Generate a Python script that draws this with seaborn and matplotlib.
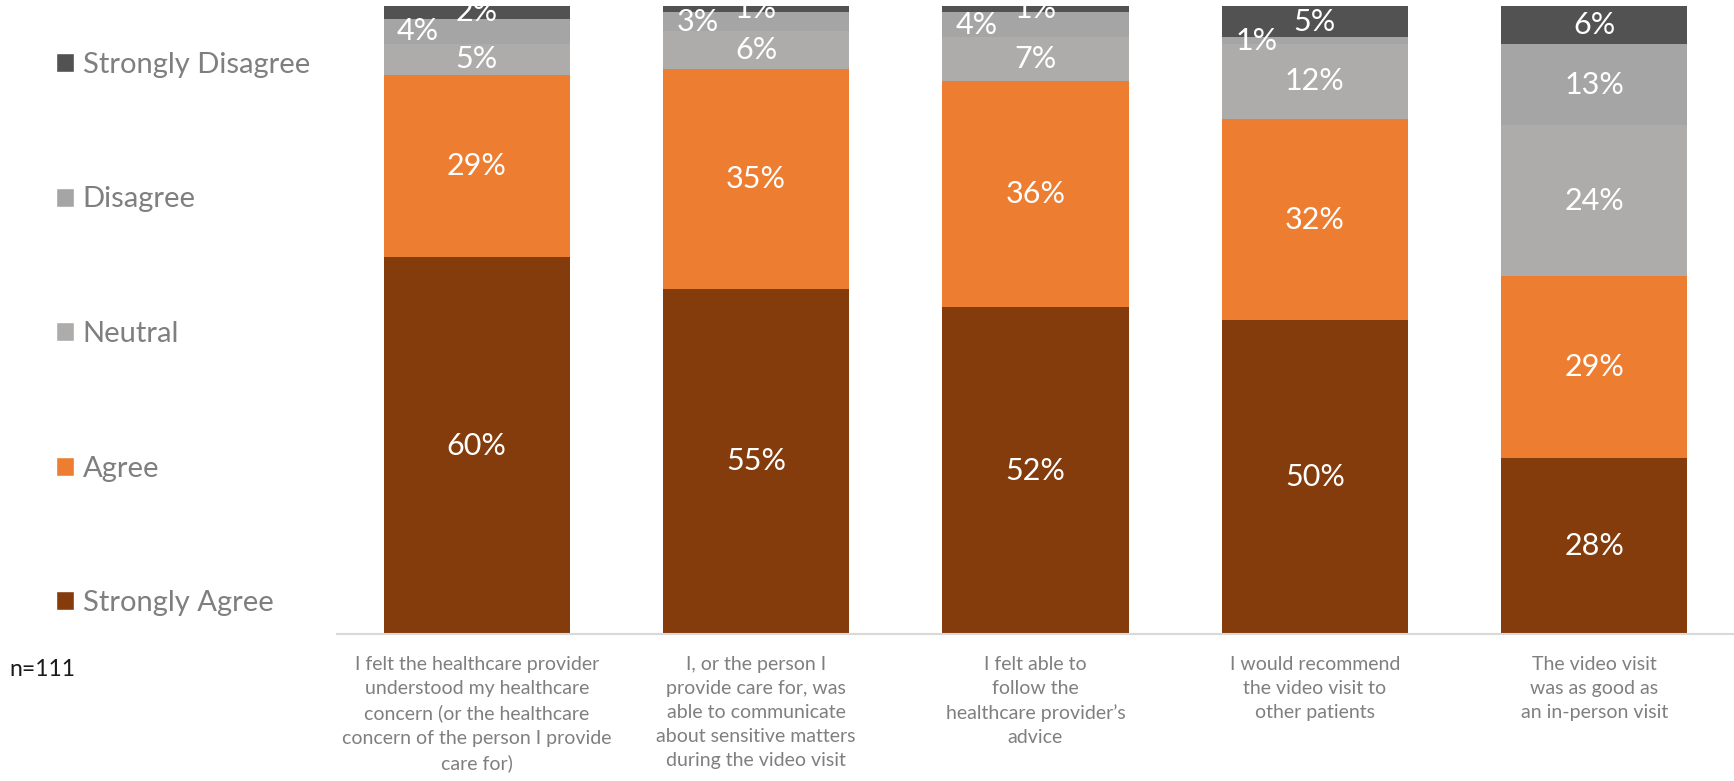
import pandas as pd
import seaborn as sns
import matplotlib.pyplot as plt
from matplotlib.patches import Patch

# survey items (x axis)
questions = [
    "I felt the healthcare provider\nunderstood my healthcare\nconcern (or the healthcare\nconcern of the person I provide\ncare for)",
    "I, or the person I\nprovide care for, was\nable to communicate\nabout sensitive matters\nduring the video visit",
    "I felt able to\nfollow the\nhealthcare provider\u2019s\nadvice",
    "I would recommend\nthe video visit to\nother patients",
    "The video visit\nwas as good as\nan in-person visit",
]

# percentages per answer level
strongly_agree = [60, 55, 52, 50, 28]
agree = [29, 35, 36, 32, 29]
neutral = [5, 6, 7, 12, 24]
disagree = [4, 3, 4, 1, 13]
strongly_disagree = [2, 1, 1, 5, 6]

levels = ["Strongly Agree", "Agree", "Neutral", "Disagree", "Strongly Disagree"]
colors = ["#843C0C", "#ED7D31", "#AEABAB", "#A5A5A5", "#525252"]

df = pd.DataFrame({
    "question": questions,
    "Strongly Agree": strongly_agree,
    "Agree": agree,
    "Neutral": neutral,
    "Disagree": disagree,
    "Strongly Disagree": strongly_disagree,
})
cum = df[levels].cumsum(axis=1)

sns.set_theme(style="white")
plt.rcParams["font.family"] = ["Lato", "DejaVu Sans"]

W, H = 1734, 781
fig = plt.figure(figsize=(W / 100, H / 100), dpi=100)
ax = fig.add_axes([337 / W, 1 - 634 / H, 1 - 337 / W, 628 / H])

# stacked bars: draw cumulative totals from the top layer down
for lvl, col in reversed(list(zip(levels, colors))):
    sns.barplot(x=df["question"], y=cum[lvl], order=questions, color=col,
                saturation=1, width=0.666, errorbar=None, linewidth=0, ax=ax)

# value labels in the middle of each segment
for i in range(len(questions)):
    for lvl in levels:
        val = df.loc[i, lvl]
        y = cum.loc[i, lvl] - val / 2
        x = i
        if lvl == "Disagree" and val < 5:
            x = i - 0.21  # nudged left like the original
        ax.text(x, y, f"{val}%", ha="center", va="center", color="white", fontsize=22)

ax.set_xlim(-0.5, 4.5)
ax.set_ylim(0, 100)
ax.set_xlabel("")
ax.set_ylabel("")
ax.set_yticks([])
for s in ["top", "left", "right"]:
    ax.spines[s].set_visible(False)
ax.spines["bottom"].set_color("#D9D9D9")
ax.spines["bottom"].set_linewidth(1.5)
ax.tick_params(axis="x", length=0, pad=16)
for lab in ax.get_xticklabels():
    lab.set_color("#7F7F7F")
    lab.set_fontsize(14)
    lab.set_linespacing(1.5)
    lab.set_va("top")

# legend on the left, top level first
handles = [Patch(facecolor=c, label=l) for l, c in zip(levels, colors)][::-1]
fig.legend(handles=handles, loc="upper left", bbox_to_anchor=(56 / W, 1 - 52 / H),
           frameon=False, fontsize=21, labelcolor="#7F7F7F", handlelength=0.62,
           handleheight=0.62, handletextpad=0.3, labelspacing=3.72,
           borderpad=0, borderaxespad=0)

fig.text(9 / W, 1 - 669 / H, "n=111", ha="left", va="center", fontsize=16.5, color="#1A1A1A")

fig.savefig("out.png", dpi=100)
